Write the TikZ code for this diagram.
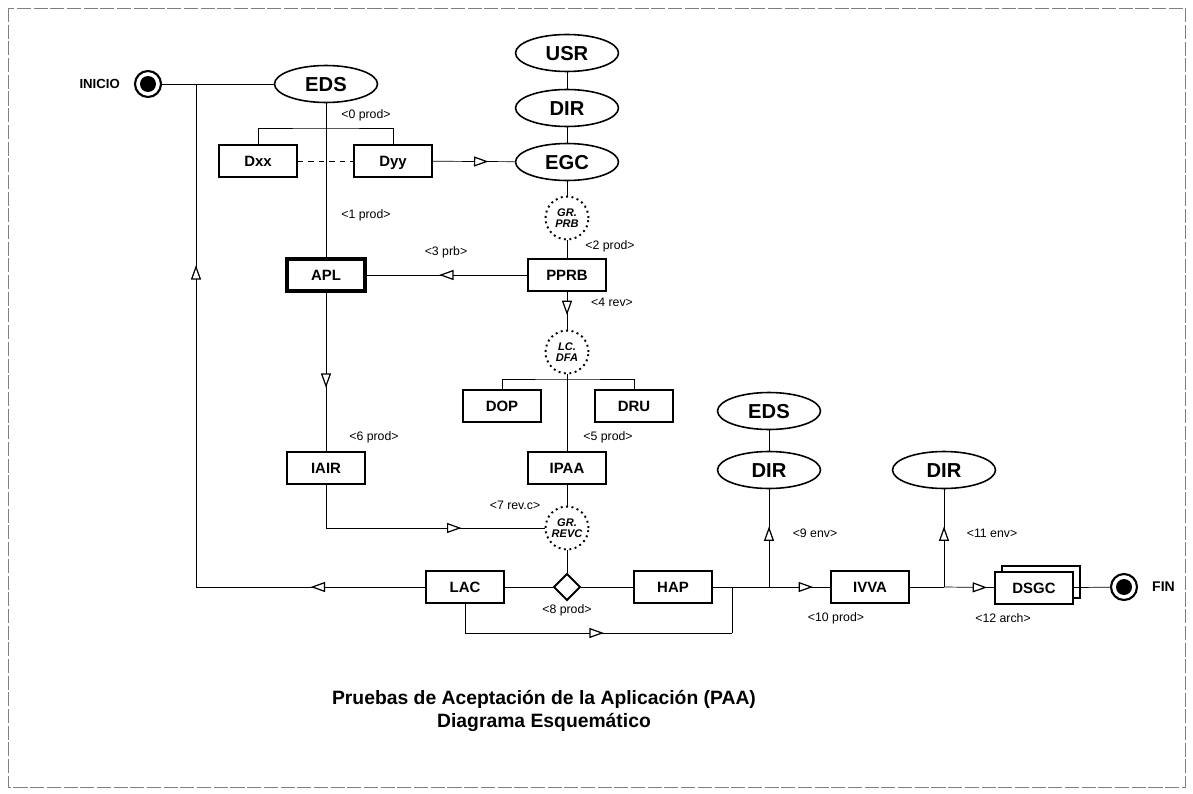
\documentclass[tikz,border=0pt]{standalone}
\usepackage{fontspec}
\setmainfont{Liberation Sans}
\usepackage{tikz}
\usetikzlibrary{arrows.meta,shapes.geometric,decorations.markings,shadows}

\begin{document}
\begin{tikzpicture}[x=0.02cm,y=-0.02cm,
caja/.style={draw, line width=0.9pt, minimum width=1.56cm, minimum height=0.64cm, inner sep=0pt, fill=white,
  text height=6.2pt, text depth=0pt, font=\fontsize{8.5}{10}\selectfont\bfseries},
cajag/.style={caja, line width=2.2pt},
elip/.style={draw, ellipse, line width=0.9pt, minimum width=2.06cm, minimum height=0.74cm, inner sep=0pt,
  text height=8.2pt, text depth=0pt, font=\fontsize{11.5}{13}\selectfont\bfseries},
grupo/.style={draw, circle, dotted, line width=1.1pt, minimum size=0.86cm, inner sep=0pt, align=center, font=\fontsize{6.3}{6.5}\selectfont\bfseries\itshape},
rombo/.style={draw, diamond, line width=1.1pt, minimum width=0.54cm, minimum height=0.54cm, inner sep=0pt, fill=white},
extremo/.style={draw, circle, line width=1.2pt, minimum size=0.52cm, inner sep=0pt,
  path picture={\fill (path picture bounding box.center) circle (0.16cm);}},
etq/.style={font=\fontsize{7}{8}\selectfont},
flecha/.style={postaction={decorate}, decoration={markings,
  mark=at position #1 with {\arrow{Triangle[length=2.9mm, width=2mm, fill=white, line width=0.7pt]}}}}]
\useasboundingbox (0,0) rectangle (1193,794);
% marco
\draw[gray, line width=0.5pt, dash pattern=on 8pt off 1.5pt] (8,8) rectangle (1185,787);
% inicio
\node[extremo] (ini) at (148,84) {};
\node[anchor=east, font=\fontsize{7.5}{9}\selectfont\bfseries] (tini) at (126,84) {INICIO};
\coordinate (j0) at (196,84);
% entidades
\node[elip] (eds) at (326,84) {EDS};
\node[elip] (usr) at (567,53) {USR};
\node[elip] (dir1) at (567,108) {DIR};
\node[elip] (egc) at (567,162) {EGC};
\node[elip] (eds2) at (769,411) {EDS};
\node[elip] (dir2) at (769,470) {DIR};
\node[elip] (dir3) at (944,470) {DIR};
% cajas
\node[caja] (dxx) at (258,161) {Dxx};
\node[caja] (dyy) at (393,161) {Dyy};
\node[cajag] (apl) at (326,275) {APL};
\node[caja] (pprb) at (567,275) {PPRB};
\node[caja] (dop) at (502,406) {DOP};
\node[caja] (dru) at (634,406) {DRU};
\node[caja] (iair) at (326,468) {IAIR};
\node[caja] (ipaa) at (567,468) {IPAA};
\node[caja] (lac) at (465,587) {LAC};
\node[caja] (hap) at (673,587) {HAP};
\node[caja] (ivva) at (870,587) {IVVA};
\node[caja, copy shadow={shadow xshift=0.14cm, shadow yshift=0.12cm, line width=0.9pt}] (dsgc) at (1034,588) {DSGC};
% grupos
\node[grupo] (grprb) at (567,218) {GR.\\PRB};
\node[grupo] (lcdfa) at (567,352) {LC.\\DFA};
\node[grupo] (grrevc) at (567,528) {GR.\\REVC};
\node[rombo] (dec) at (567,587) {};
% fin
\node[extremo] (fin) at (1124,587) {};
\node[anchor=west, font=\fontsize{8}{9}\selectfont\bfseries] (tfin) at (1146,587) {FIN};
% conexiones superiores
\draw (ini) -- (eds);
\draw (eds) -- (apl);
\coordinate (r0) at (326,128);
\draw (dxx.north) |- (r0) -| (dyy.north);
\draw[dashed] (dxx) -- (dyy);
\draw[flecha=0.68] (dyy) -- (egc);
\draw (usr) -- (dir1) -- (egc) -- (grprb) -- (pprb);
\draw[flecha=0.55] (pprb) -- (apl);
\draw[flecha=0.62] (pprb) -- (lcdfa);
\coordinate (r1) at (567,379);
\draw (dop.north) |- (r1) -| (dru.north);
\draw (lcdfa) -- (ipaa);
% conexiones centrales
\draw[flecha=0.6] (apl) -- (iair);
\coordinate (c2) at (326,528);
\draw (iair) -- (c2);
\draw[flecha=0.62] (c2) -- (grrevc);
\draw (ipaa) -- (grrevc) -- (dec);
\draw (lac) -- (dec) -- (hap);
% retorno al inicio
\coordinate (c1) at (196,587);
\draw[flecha=0.5] (lac) -- (c1);
\draw[flecha=0.64] (c1) -- (j0);
% lazo inferior
\coordinate (c3) at (465,633);
\coordinate (c4) at (732,633);
\coordinate (c5) at (732,587);
\draw (lac) -- (c3);
\draw[flecha=0.52] (c3) -- (c4);
\draw (c4) -- (c5);
% envios
\coordinate (j1) at (769,587);
\coordinate (j2) at (944,587);
\draw (hap) -- (j1);
\draw[flecha=0.72] (j1) -- (ivva);
\draw[flecha=0.62] (j1) -- (dir2);
\draw (eds2) -- (dir2);
\draw (ivva) -- (j2);
\draw[flecha=0.86] (j2) -- (dsgc);
\draw[flecha=0.62] (j2) -- (dir3);
\draw (dsgc) -- (fin);
% etiquetas
\node[etq] (e0) at (366,115) {<0 prod>};
\node[etq] (e1) at (366,215) {<1 prod>};
\node[etq] (e2) at (610,246) {<2 prod>};
\node[etq] (e3) at (446,252) {<3 prb>};
\node[etq] (e4) at (612,302) {<4 rev>};
\node[etq] (e5) at (608,437) {<5 prod>};
\node[etq] (e6) at (374,437) {<6 prod>};
\node[etq] (e7) at (515,505) {<7 rev.c>};
\node[etq] (e8) at (567,610) {<8 prod>};
\node[etq] (e9) at (815,533) {<9 env>};
\node[etq] (e10) at (836,618) {<10 prod>};
\node[etq] (e11) at (992,533) {<11 env>};
\node[etq] (e12) at (1003,618) {<12 arch>};
% titulo
\node[align=center, font=\fontsize{11}{13.5}\selectfont\bfseries] (tit) at (544,711)
  {Pruebas de Aceptación de la Aplicación (PAA)\\Diagrama Esquemático};
\end{tikzpicture}
\end{document}
